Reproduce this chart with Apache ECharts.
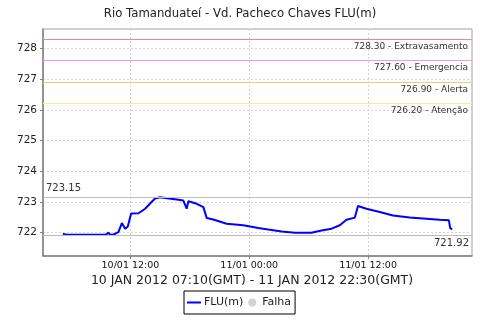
<!DOCTYPE html>
<html><head><meta charset="utf-8">
<script src="https://cdn.jsdelivr.net/npm/echarts@6/dist/echarts.min.js"></script>
<style>html,body{margin:0;padding:0;background:#fff}#c{width:480px;height:320px}</style>
</head><body><div id="c"></div>
<script>
// ---- data ----
const chartTitle = 'Rio Tamanduateí - Vd. Pacheco Chaves FLU(m)';
const periodLabel = '10 JAN 2012 07:10(GMT) - 11 JAN 2012 22:30(GMT)';
const times = ['10/01 05:10','10/01 05:36','10/01 06:30','10/01 08:00','10/01 09:30','10/01 09:47','10/01 09:57','10/01 10:17','10/01 10:47','10/01 11:08','10/01 11:17','10/01 11:28','10/01 11:44','10/01 11:52','10/01 12:04','10/01 12:49','10/01 13:29','10/01 13:59','10/01 14:29','10/01 15:00','10/01 15:42','10/01 16:41','10/01 17:20','10/01 17:41','10/01 17:51','10/01 18:42','10/01 19:22','10/01 19:42','10/01 20:22','10/01 21:43','10/01 23:23','11/01 00:55','11/01 01:55','11/01 03:16','11/01 04:37','11/01 06:17','11/01 07:18','11/01 08:19','11/01 09:09','11/01 09:49','11/01 10:40','11/01 10:59','11/01 11:50','11/01 13:11','11/01 14:31','11/01 16:12','11/01 17:33','11/01 19:14','11/01 20:10','11/01 20:18','11/01 20:30'];
const flu = [721.96,721.93,721.93,721.93,721.93,722.00,721.93,721.94,722.02,722.31,722.28,722.13,722.20,722.25,722.62,722.63,722.78,722.95,723.11,723.15,723.12,723.08,723.05,722.78,723.02,722.94,722.83,722.48,722.43,722.29,722.24,722.15,722.10,722.04,722.00,722.00,722.07,722.13,722.24,722.42,722.49,722.87,722.78,722.67,722.56,722.49,722.46,722.42,722.40,722.15,722.11];
const thresholdValues = [728.30, 727.60, 726.90, 726.20];
const thresholdNames = ['Extravasamento', 'Emergencia', 'Alerta', 'Atenção'];
const maxValue = 723.15;
const minValue = 721.92;
const yTicks = [722, 723, 724, 725, 726, 727, 728];
const xTickLabels = ['10/01 12:00', '11/01 00:00', '11/01 12:00'];
const axisStart = '10/01 03:10';
const axisEnd = '11/01 22:30';

// ---- helpers ----
function toHours(s) {
  const [d, t] = s.split(' ');
  const day = parseInt(d.split('/')[0], 10);
  const [hh, mm] = t.split(':').map(Number);
  return (day - 10) * 24 + hh + mm / 60;
}
const lineData = times.map((t, i) => [toHours(t), flu[i]]);
const xTickValues = xTickLabels.map(toHours);
const labelMap = {};
xTickValues.forEach((v, i) => { labelMap[v.toFixed(3)] = xTickLabels[i]; });

const thresholdColors = ['#f08a8a', '#ec96ec', '#ffc47a', '#f6eca4'];
const FONT = 'DejaVu Sans';

const markData = thresholdValues.map((v, i) => ({
  yAxis: v,
  lineStyle: { color: thresholdColors[i], width: 1, type: 'solid' },
  label: { show: true, position: 'insideEndBottom', formatter: v.toFixed(2) + ' - ' + thresholdNames[i],
           color: '#333', fontSize: 9, fontFamily: FONT, distance: [4, 3] }
}));
markData.push({
  yAxis: maxValue,
  lineStyle: { color: '#bdbdbd', width: 1.2, type: 'solid' },
  label: { show: true, position: 'insideStartTop', formatter: maxValue.toFixed(2),
           color: '#333', fontSize: 10, fontFamily: FONT, distance: [3, 4] }
});
markData.push({
  yAxis: minValue,
  lineStyle: { color: '#bdbdbd', width: 1.2, type: 'solid' },
  label: { show: true, position: 'insideEndBottom', formatter: minValue.toFixed(2),
           color: '#333', fontSize: 10, fontFamily: FONT, distance: [3, 3] }
});

const chart = echarts.init(document.getElementById('c'), null, { renderer: 'canvas' });
chart.setOption({
  animation: false,
  backgroundColor: '#fff',
  title: {
    text: chartTitle, left: 'center', top: 3,
    textStyle: { fontSize: 11.7, fontWeight: 'normal', color: '#222', fontFamily: FONT }
  },
  graphic: [{
    type: 'text', x: 252, y: 281,
    style: { text: periodLabel, textAlign: 'center', textVerticalAlign: 'middle',
             font: '12.5px "DejaVu Sans"', fill: '#222' }
  }],
  grid: { left: 43, right: 8, top: 29, bottom: 64, show: true, borderColor: '#a0a0a0', borderWidth: 1 },
  xAxis: {
    type: 'value', min: toHours(axisStart), max: toHours(axisEnd),
    axisLine: { show: true, lineStyle: { color: '#808080', width: 1.5 } },
    axisTick: { show: true, length: 3, customValues: xTickValues, lineStyle: { color: '#808080' } },
    axisLabel: { customValues: xTickValues, margin: 5, fontSize: 9.5, fontFamily: FONT, color: '#111',
                 formatter: v => labelMap[v.toFixed(3)] || '' },
    splitLine: { show: true, lineStyle: { color: '#d4d4d4', type: [2, 2], width: 1 } }
  },
  yAxis: {
    type: 'value', min: 721.24, max: 728.63,
    axisLine: { show: true, lineStyle: { color: '#808080', width: 1.5 } },
    axisTick: { show: true, length: 3, customValues: yTicks, lineStyle: { color: '#808080' } },
    axisLabel: { customValues: yTicks, margin: 6, fontSize: 10.5, fontFamily: FONT, color: '#222' },
    splitLine: { show: true, lineStyle: { color: '#d4d4d4', type: [2, 2], width: 1 } }
  },
  legend: {
    left: 184, top: 291, orient: 'horizontal',
    borderColor: '#000', borderWidth: 1, padding: [6, 4, 6, 3], itemGap: 5,
    itemWidth: 14, itemHeight: 8,
    textStyle: { fontSize: 11, fontFamily: FONT, color: '#222', padding: [0, 0, 0, -2] },
    data: [{ name: 'FLU(m)', icon: 'path://M0,0H14V2H0Z' }, { name: 'Falha', icon: 'circle' }]
  },
  series: [
    {
      name: 'FLU(m)', type: 'line', data: lineData, symbol: 'none', showSymbol: false,
      lineStyle: { color: '#0000ff', width: 2 }, itemStyle: { color: '#0000ff' },
      markLine: { silent: true, symbol: 'none', data: markData, animation: false }
    },
    {
      name: 'Falha', type: 'scatter', data: [], symbol: 'circle', symbolSize: 8,
      itemStyle: { color: '#c8c8c8' }
    }
  ]
});
</script>
</body></html>
